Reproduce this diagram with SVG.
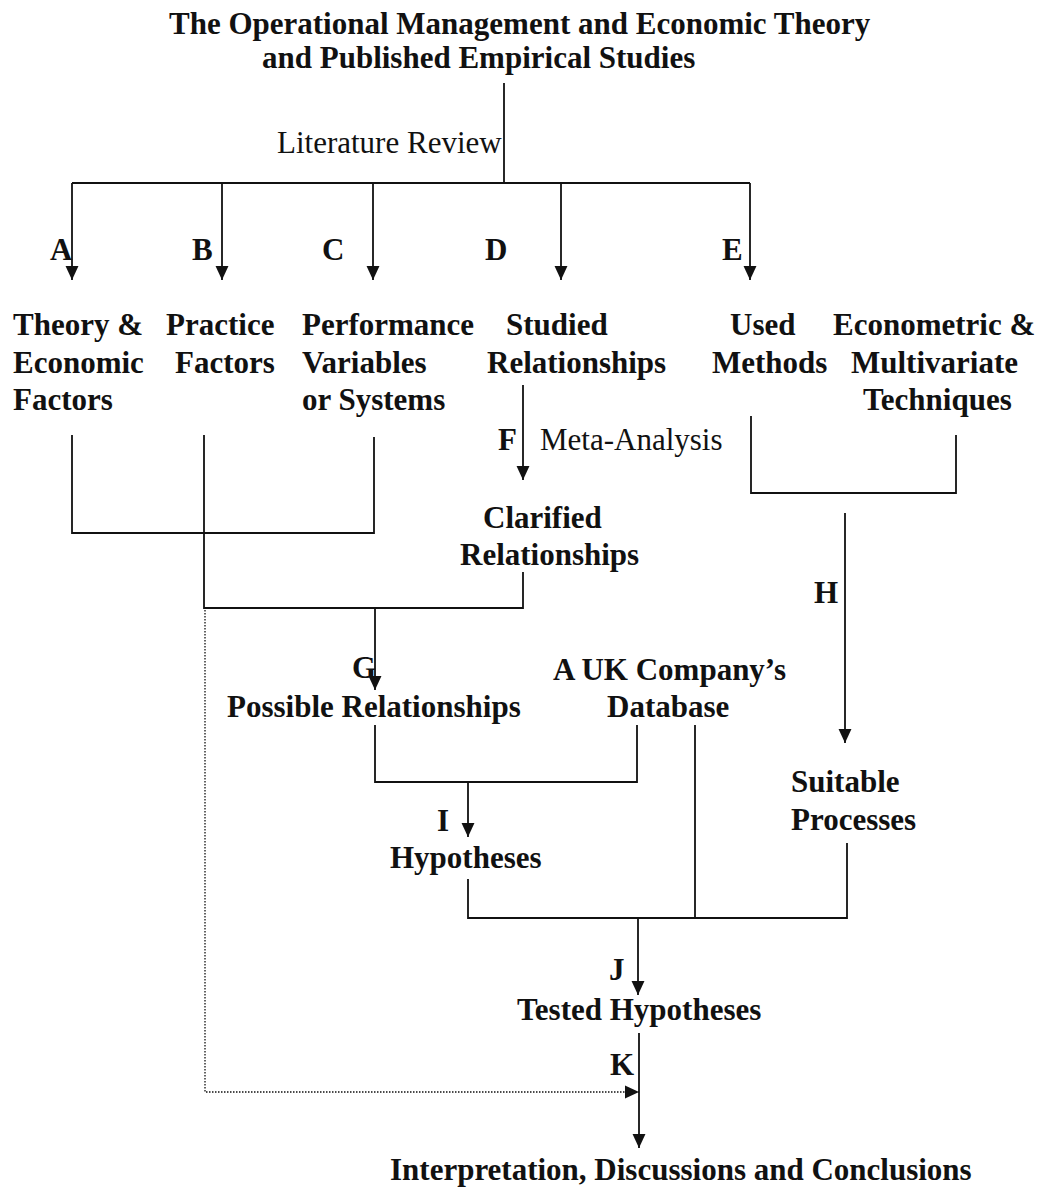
<svg xmlns="http://www.w3.org/2000/svg" width="1038" height="1190" viewBox="0 0 1038 1190">
<style>
text{font-family:"Liberation Serif","Times New Roman",serif;font-size:31px;fill:#111}
.b{font-weight:bold}
.r{font-weight:normal}
.ln{fill:none;stroke:#111;stroke-width:1.8}
.dot{fill:none;stroke:#111;stroke-width:1.3;stroke-dasharray:1.5 1.5}
</style>
<defs>
<marker id="ah" markerUnits="userSpaceOnUse" markerWidth="14" markerHeight="14" viewBox="0 0 13 12" refX="13" refY="6" orient="auto">
<path d="M0,0 L13,6 L0,12 z" fill="#111"/>
</marker>
</defs>
<rect width="1038" height="1190" fill="#fff"/>
<g id="connectors">
<path class="ln" d="M504,83 V183"/>
<path class="ln" d="M72,183 H750"/>
<path class="ln" d="M72,183 V280" marker-end="url(#ah)"/>
<path class="ln" d="M222,183 V280" marker-end="url(#ah)"/>
<path class="ln" d="M373,183 V280" marker-end="url(#ah)"/>
<path class="ln" d="M561,183 V280" marker-end="url(#ah)"/>
<path class="ln" d="M750,183 V280" marker-end="url(#ah)"/>
<path class="ln" d="M72,435 V533 H374 V437"/>
<path class="ln" d="M204,435 V608 H523 V572"/>
<path class="ln" d="M375,608 V690" marker-end="url(#ah)"/>
<path class="ln" d="M523,385 V480" marker-end="url(#ah)"/>
<path class="ln" d="M751,416 V493 H956 V435"/>
<path class="ln" d="M845,513 V743" marker-end="url(#ah)"/>
<path class="ln" d="M375,725 V782 H637 V725"/>
<path class="ln" d="M468,782 V837" marker-end="url(#ah)"/>
<path class="ln" d="M468,879 V918 H847 V843"/>
<path class="ln" d="M695,725 V918"/>
<path class="ln" d="M638,918 V995" marker-end="url(#ah)"/>
<path class="ln" d="M639,1033 V1148" marker-end="url(#ah)"/>
<path class="dot" d="M205,610 V1092 H639" marker-end="url(#ah)"/>
</g>
<g id="labels">
<text class="r" x="277" y="153">Literature Review</text>
<text class="b" x="50" y="260">A</text>
<text class="b" x="192" y="260">B</text>
<text class="b" x="322" y="260">C</text>
<text class="b" x="485" y="260">D</text>
<text class="b" x="722" y="260">E</text>
<text class="b" x="498" y="450">F</text>
<text class="r" x="540" y="450">Meta-Analysis</text>
<text class="b" x="352" y="678">G</text>
<text class="b" x="814" y="603">H</text>
<text class="b" x="437" y="831">I</text>
<text class="b" x="609" y="980">J</text>
<text class="b" x="610" y="1075">K</text>
</g>
<g id="node-title"><text class="b" x="169" y="34">The Operational Management and Economic Theory</text><text class="b" x="262" y="68">and Published Empirical Studies</text></g>
<g id="node-theory"><text class="b" x="13" y="335">Theory &amp;</text><text class="b" x="13" y="373">Economic</text><text class="b" x="13" y="410">Factors</text></g>
<g id="node-practice"><text class="b" x="166" y="335">Practice</text><text class="b" x="175" y="373">Factors</text></g>
<g id="node-performance"><text class="b" x="302" y="335">Performance</text><text class="b" x="302" y="373">Variables</text><text class="b" x="302" y="410">or Systems</text></g>
<g id="node-studied"><text class="b" x="506" y="335">Studied</text><text class="b" x="487" y="373">Relationships</text></g>
<g id="node-used"><text class="b" x="730" y="335">Used</text><text class="b" x="712" y="373">Methods</text></g>
<g id="node-econometric"><text class="b" x="833" y="335">Econometric &amp;</text><text class="b" x="851" y="373">Multivariate</text><text class="b" x="863" y="410">Techniques</text></g>
<g id="node-clarified"><text class="b" x="483" y="528">Clarified</text><text class="b" x="460" y="565">Relationships</text></g>
<g id="node-possible"><text class="b" x="227" y="717">Possible Relationships</text></g>
<g id="node-database"><text class="b" x="553" y="680">A UK Company’s</text><text class="b" x="607" y="717">Database</text></g>
<g id="node-suitable"><text class="b" x="791" y="792">Suitable</text><text class="b" x="791" y="830">Processes</text></g>
<g id="node-hypotheses"><text class="b" x="390" y="868">Hypotheses</text></g>
<g id="node-tested"><text class="b" x="517" y="1020">Tested Hypotheses</text></g>
<g id="node-interpretation"><text class="b" x="390" y="1180">Interpretation, Discussions and Conclusions</text></g>
</svg>
